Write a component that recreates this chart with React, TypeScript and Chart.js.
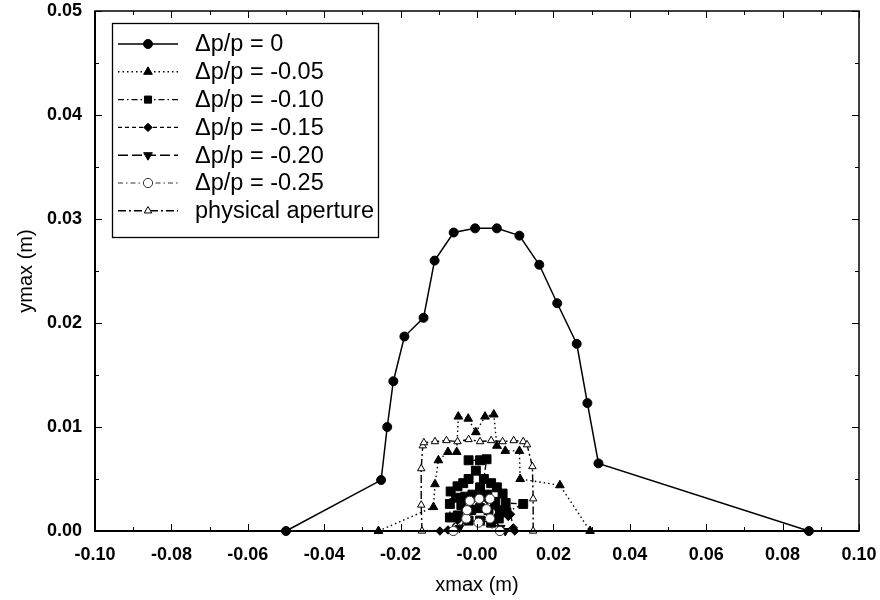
import React, { useEffect, useRef } from "react";
import { Chart, registerables } from "chart.js";
import { drawPoint } from "chart.js/helpers";

Chart.register(...registerables);

const seriesLabels = [
  "Δp/p = 0",
  "Δp/p = -0.05",
  "Δp/p = -0.10",
  "Δp/p = -0.15",
  "Δp/p = -0.20",
  "Δp/p = -0.25",
  "physical aperture",
];

const xTickLabels = ["-0.10", "-0.08", "-0.06", "-0.04", "-0.02", "-0.00", "0.02", "0.04", "0.06", "0.08", "0.10"];
const yTickLabels = ["0.00", "0.01", "0.02", "0.03", "0.04", "0.05"];

// Δp/p = 0
const dp0X = [-0.05, -0.0251, -0.0235, -0.0219, -0.019, -0.014, -0.0111, -0.0061, -0.0005, 0.0052, 0.0111, 0.0163, 0.021, 0.0261, 0.0289, 0.0318, 0.0869];
const dp0Y = [0, 0.0049, 0.01, 0.0144, 0.0187, 0.0205, 0.026, 0.0287, 0.0291, 0.0291, 0.0284, 0.0256, 0.0219, 0.018, 0.0123, 0.0065, 0];

// Δp/p = -0.05
const dp05X = [-0.0258, -0.0114, -0.011, -0.0101, -0.0076, -0.0053, -0.0049, -0.0023, -0.0003, 0.0021, 0.0044, 0.0052, 0.0074, 0.0111, 0.0113, 0.0217, 0.0296];
const dp05Y = [0, 0.0023, 0.0045, 0.0068, 0.0076, 0.0076, 0.011, 0.0108, 0.0095, 0.011, 0.0112, 0.0082, 0.0077, 0.0077, 0.005, 0.0044, 0];

// Δp/p = -0.10
const dp10X = [-0.0071, -0.0071, -0.0069, -0.0051, -0.0036, -0.0022, -0.0003, -0.0022, 0.0008, 0.0025, 0.0018, 0.0037, 0.0052, 0.0067, 0.0075, 0.0121, 0.0077, 0.0057, 0.0037, 0.0008, -0.0022, -0.005, -0.0041, -0.0012, 0.0008, 0.0027, 0.0047, -0.0031, 0.0008, -0.0055, 0.006, -0.0015, 0.003];
const dp10Y = [0.0013, 0.0026, 0.0038, 0.0043, 0.0046, 0.005, 0.0058, 0.0068, 0.0068, 0.0069, 0.005, 0.0046, 0.0042, 0.0036, 0.0027, 0.0026, 0.0018, 0.0012, 0.0008, 0.001, 0.001, 0.0015, 0.0025, 0.0035, 0.0042, 0.0035, 0.0028, 0.0033, 0.0022, 0.0032, 0.002, 0.002, 0.002];

// Δp/p = -0.15
const dp15X = [-0.0097, -0.0076, -0.0051, -0.0031, -0.0012, 0.0008, 0.0027, 0.0052, 0.0082, 0.0088, 0.0095, 0.0099];
const dp15Y = [0, 0.0001, 0.001, 0.002, 0.003, 0.0035, 0.003, 0.0022, 0.0014, 0.0016, 0.0003, 0];

// Δp/p = -0.20
const dp20X = [-0.0046, -0.0026, -0.0007, 0.0008, 0.0023, 0.0042, 0.0062, 0.0074];
const dp20Y = [0.0003, 0.0012, 0.0022, 0.0028, 0.0022, 0.0012, 0.0003, 0];

// Δp/p = -0.25
const dp25X = [-0.0062, -0.0028, -0.0026, -0.0019, 0.0006, 0.0034, 0.0025, 0.0034, 0.0004, 0.006];
const dp25Y = [0, 0.0012, 0.002, 0.0029, 0.0031, 0.0031, 0.0021, 0.0012, 0.0008, 0];

// physical aperture
const apX = [-0.0144, -0.0146, -0.0146, -0.0142, -0.0139, -0.011, -0.008, -0.0051, -0.0022, 0.0008, 0.0037, 0.0067, 0.0096, 0.0121, 0.0131, 0.0145, 0.0147, 0.0147];
const apY = [0, 0.0025, 0.006, 0.0082, 0.0085, 0.0086, 0.0087, 0.0086, 0.0088, 0.0086, 0.0087, 0.0086, 0.0087, 0.0086, 0.0083, 0.0062, 0.0031, 0];

const zip = (xs: number[], ys: number[]) => xs.map((x, i) => ({ x, y: ys[i] }));

const seriesX = [dp0X, dp05X, dp10X, dp15X, dp20X, dp25X, apX];
const seriesY = [dp0Y, dp05Y, dp10Y, dp15Y, dp20Y, dp25Y, apY];

const styles = [
  { dash: [], width: 1.5, pointStyle: "circle", radius: 4.5, rotation: 0, fill: "#000", color: "#000" },
  { dash: [1.5, 3], width: 1.4, pointStyle: "triangle", radius: 5, rotation: 0, fill: "#000", color: "#000" },
  { dash: [6, 3, 1.5, 3], width: 1.4, pointStyle: "rect", radius: 6.3, rotation: 0, fill: "#000", color: "#000" },
  { dash: [4, 3], width: 1.4, pointStyle: "rectRot", radius: 4.2, rotation: 0, fill: "#000", color: "#000" },
  { dash: [10, 4], width: 1.5, pointStyle: "triangle", radius: 5, rotation: 180, fill: "#000", color: "#000" },
  { dash: [5, 3, 1.5, 3], width: 1.1, pointStyle: "circle", radius: 4.6, rotation: 0, fill: "#fff", color: "#333" },
  { dash: [8, 3, 2, 3], width: 1.4, pointStyle: "triangle", radius: 4.3, rotation: 0, fill: "#fff", color: "#000" },
];

const FONT = "'Liberation Sans', Arial, Helvetica, sans-serif";

const framePlugin = {
  id: "frameTicks",
  afterDatasetsDraw(chart: any) {
    const { ctx, chartArea, scales } = chart;
    const xs = scales.x;
    const ys = scales.y;
    ctx.save();
    ctx.strokeStyle = "#000";
    ctx.setLineDash([]);
    ctx.lineWidth = 1;
    for (let i = 0; i <= 20; i++) {
      const v = -0.1 + i * 0.01;
      const px = Math.round(xs.getPixelForValue(v)) + 0.5;
      const len = i % 2 === 0 ? 7 : 4;
      ctx.beginPath();
      ctx.moveTo(px, chartArea.bottom);
      ctx.lineTo(px, chartArea.bottom - len);
      ctx.moveTo(px, chartArea.top);
      ctx.lineTo(px, chartArea.top + len);
      ctx.stroke();
    }
    for (let i = 0; i <= 10; i++) {
      const v = i * 0.005;
      const py = Math.round(ys.getPixelForValue(v)) + 0.5;
      const len = i % 2 === 0 ? 7 : 4;
      ctx.beginPath();
      ctx.moveTo(chartArea.left, py);
      ctx.lineTo(chartArea.left + len, py);
      ctx.moveTo(chartArea.right, py);
      ctx.lineTo(chartArea.right - len, py);
      ctx.stroke();
    }
    ctx.lineWidth = 1.5;
    ctx.strokeRect(chartArea.left, chartArea.top, chartArea.right - chartArea.left, chartArea.bottom - chartArea.top);
    ctx.lineWidth = 2;
    ctx.beginPath();
    ctx.moveTo(chartArea.left, chartArea.top);
    ctx.lineTo(chartArea.left, chartArea.bottom);
    ctx.lineTo(chartArea.right, chartArea.bottom);
    ctx.stroke();

    // legend box
    const bx = chartArea.left + 17;
    const by = chartArea.top + 12;
    const bw = 266;
    const bh = 214;
    ctx.fillStyle = "#fff";
    ctx.fillRect(bx, by, bw, bh);
    ctx.lineWidth = 1.3;
    ctx.strokeStyle = "#000";
    ctx.strokeRect(bx + 0.5, by + 0.5, bw, bh);
    ctx.font = `23.5px ${FONT}`;
    ctx.textBaseline = "middle";
    ctx.textAlign = "left";
    seriesLabels.forEach((label, i) => {
      const st = styles[i];
      const ry = by + 21 + i * 27.8;
      ctx.save();
      ctx.strokeStyle = st.color;
      ctx.lineWidth = st.width;
      ctx.setLineDash(st.dash);
      ctx.beginPath();
      ctx.moveTo(bx + 6, ry);
      ctx.lineTo(bx + 66, ry);
      ctx.stroke();
      ctx.setLineDash([]);
      ctx.fillStyle = st.fill;
      ctx.strokeStyle = st.color;
      ctx.lineWidth = 1;
      const r = st.pointStyle === "rect" ? 5 : st.radius;
      drawPoint(ctx, { pointStyle: st.pointStyle, rotation: st.rotation, radius: r, borderWidth: 1 } as any, bx + 36, ry);
      ctx.restore();
      ctx.fillStyle = "#000";
      ctx.fillText(label, bx + 83, ry + 1);
    });
    ctx.restore();
  },
};

export default function App() {
  const canvasRef = useRef<HTMLCanvasElement | null>(null);

  useEffect(() => {
    const canvas = canvasRef.current;
    if (!canvas) return;
    const datasets = seriesLabels.map((label, i) => {
      const st = styles[i];
      return {
        label,
        data: zip(seriesX[i], seriesY[i]),
        showLine: true,
        borderColor: st.color,
        borderWidth: st.width,
        borderDash: st.dash,
        pointStyle: st.pointStyle,
        pointRadius: st.radius,
        pointRotation: st.rotation,
        pointBackgroundColor: st.fill,
        pointBorderColor: st.color,
        pointBorderWidth: 1,
        backgroundColor: st.fill,
        clip: false,
        order: 6 - i,
      };
    });
    const chart = new Chart(canvas, {
      type: "scatter",
      data: { datasets: datasets as any },
      options: {
        animation: false,
        responsive: false,
        maintainAspectRatio: false,
        layout: { padding: { top: 11, right: 21, left: 0, bottom: 0 } },
        plugins: {
          legend: { display: false },
          tooltip: { enabled: false },
        },
        scales: {
          x: {
            type: "linear",
            min: -0.1,
            max: 0.1,
            afterBuildTicks: (scale: any) => {
              scale.ticks = xTickLabels.map((_, i) => ({ value: -0.1 + i * 0.02 }));
            },
            afterFit: (scale: any) => {
              scale.height = 69;
              scale.paddingLeft = 0;
              scale.paddingRight = 0;
            },
            grid: { display: false, drawTicks: false, tickLength: 0 },
            border: { display: false },
            ticks: {
              color: "#000",
              font: { family: FONT, size: 18, weight: "bold" },
              padding: 13,
              maxRotation: 0,
              autoSkip: false,
              callback: (_v: any, idx: number) => xTickLabels[idx],
            },
            title: {
              display: true,
              text: "xmax (m)",
              color: "#000",
              font: { family: FONT, size: 20 },
              padding: { top: 4, bottom: 3 },
            },
          },
          y: {
            type: "linear",
            min: 0,
            max: 0.05,
            afterBuildTicks: (scale: any) => {
              scale.ticks = yTickLabels.map((_, i) => ({ value: i * 0.01 }));
            },
            afterFit: (scale: any) => {
              scale.width = 95;
              scale.paddingTop = 0;
              scale.paddingBottom = 0;
            },
            grid: { display: false, drawTicks: false, tickLength: 0 },
            border: { display: false },
            ticks: {
              color: "#000",
              font: { family: FONT, size: 18, weight: "bold" },
              padding: 13,
              autoSkip: false,
              callback: (_v: any, idx: number) => yTickLabels[idx],
            },
            title: {
              display: true,
              text: "ymax (m)",
              color: "#000",
              font: { family: FONT, size: 20 },
              padding: { top: 14, bottom: 0 },
            },
          },
        },
      },
      plugins: [framePlugin],
    });
    return () => chart.destroy();
  }, []);

  return (
    <div style={{ position: "fixed", left: 0, top: 0, width: 880, height: 600, background: "#fff" }}>
      <canvas ref={canvasRef} width={880} height={600} style={{ width: 880, height: 600, display: "block" }} />
    </div>
  );
}
